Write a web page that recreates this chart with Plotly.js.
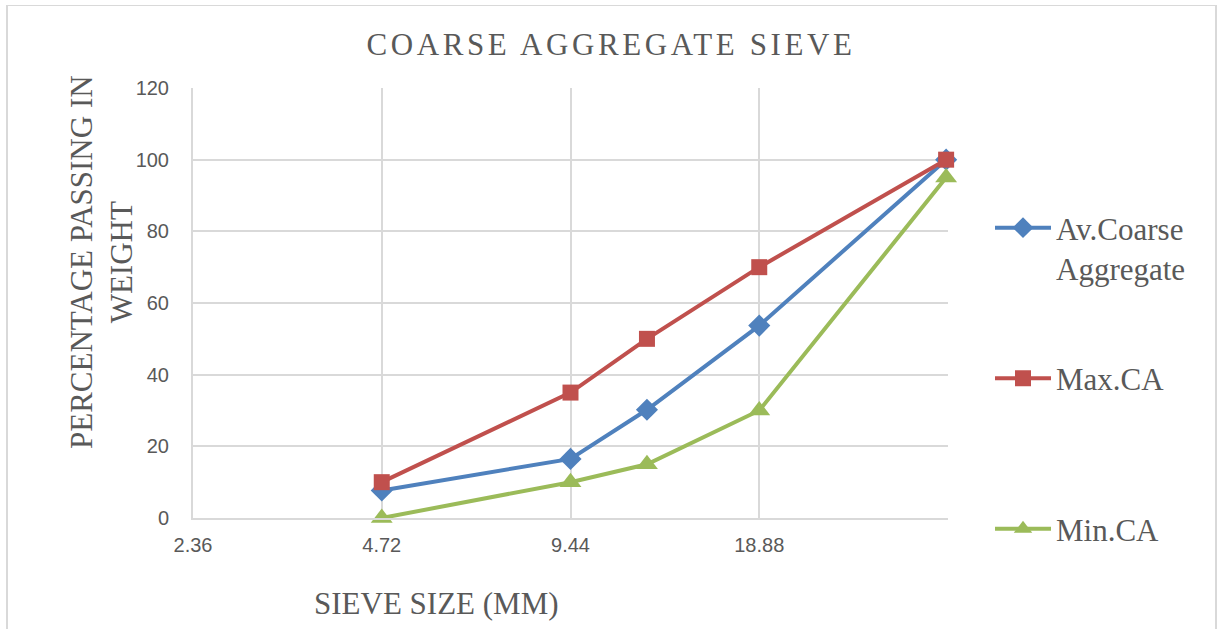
<!DOCTYPE html>
<html>
<head>
<meta charset="utf-8">
<script src="https://cdn.plot.ly/plotly-3.0.1.min.js"></script>
<style>
  html, body { margin: 0; padding: 0; background: #ffffff; }
  #frame { position: absolute; left: 6px; top: 5px; width: 1207px; height: 640px;
           border-top: 1px solid #d9d9d9; border-right: 2px solid #d9d9d9; border-left: 2px solid #d9d9d9; }
  #chart { position: absolute; left: 0; top: 0; width: 1217px; height: 629px; }
  .gtitle { letter-spacing: 3.6px; }
</style>
</head>
<body>
<div id="frame"></div>
<div id="chart"></div>
<script>
const sieveSizes = [4.72, 9.44, 12.5, 18.88, 37.5];
const avCoarse = [7.7, 16.5, 30.2, 53.7, 100];
const maxCA = [10, 35, 50, 70, 100];
const minCA = [0, 10, 15, 30, 95];
const seriesNames = ['Av.Coarse<br>Aggregate', 'Max.CA<br>\u00a0', 'Min.CA'];
const xTickVals = [2.36, 4.72, 9.44, 18.88];
const xTickText = ['2.36', '4.72', '9.44', '18.88'];
const yTickVals = [0, 20, 40, 60, 80, 100, 120];

const serif = 'Liberation Serif, Times New Roman, serif';
const sans = 'Liberation Sans, Arial, sans-serif';
const grey = '#595959';
const gridGrey = '#d9d9d9';

function trace(y, name, color, symbol, size, group) {
  return {
    x: sieveSizes, y: y, name: name, type: 'scatter', mode: 'lines+markers',
    legendgroup: group,
    line: { color: color, width: 4 },
    marker: { color: color, symbol: symbol, size: size, line: { width: 0 } },
    cliponaxis: false
  };
}

const data = [
  trace(avCoarse, seriesNames[0], '#4f81bd', 'diamond', 17, 'a'),
  trace(maxCA, seriesNames[1], '#c0504d', 'square', 16, 'b'),
  trace(minCA, seriesNames[2], '#9bbb59', 'triangle-up', 19, 'c')
];

const layout = {
  width: 1217, height: 629,
  paper_bgcolor: 'rgba(0,0,0,0)', plot_bgcolor: '#ffffff',
  margin: { l: 193, r: 269, t: 88, b: 111, pad: 0 },
  title: {
    text: 'COARSE AGGREGATE SIEVE',
    font: { family: serif, size: 31, color: grey },
    x: 0.502, xanchor: 'center', xref: 'container',
    y: 1 - 44 / 629, yanchor: 'middle', yref: 'container'
  },
  xaxis: {
    type: 'log',
    range: [Math.log10(2.36), Math.log10(37.76)],
    tickvals: xTickVals, ticktext: xTickText,
    tickfont: { family: sans, size: 20, color: grey },
    ticks: 'outside', ticklen: 8, tickcolor: 'rgba(0,0,0,0)',
    showgrid: true, gridcolor: gridGrey, gridwidth: 2,
    showline: true, linecolor: gridGrey, linewidth: 2,
    zeroline: false
  },
  yaxis: {
    range: [0, 120],
    tickvals: yTickVals,
    tickfont: { family: sans, size: 20, color: grey },
    ticks: 'outside', ticklen: 18, tickcolor: 'rgba(0,0,0,0)',
    showgrid: true, gridcolor: gridGrey, gridwidth: 2,
    showline: true, linecolor: gridGrey, linewidth: 2,
    zeroline: false
  },
  showlegend: true,
  legend: {
    x: (990 - 193) / 755, xanchor: 'left', xref: 'paper',
    y: (518 - 201) / 430, yanchor: 'top', yref: 'paper',
    valign: 'top',
    font: { family: serif, size: 31, color: grey },
    tracegroupgap: 67,
    itemwidth: 56,
    bgcolor: 'rgba(0,0,0,0)', borderwidth: 0
  },
  annotations: [
    {
      text: 'SIEVE SIZE (MM)', showarrow: false,
      xref: 'paper', yref: 'paper',
      x: (436 - 193) / 755, y: (518 - 603) / 430,
      xanchor: 'center', yanchor: 'middle',
      font: { family: serif, size: 31, color: grey }
    },
    {
      text: 'PERCENTAGE PASSING IN<br>WEIGHT', showarrow: false,
      textangle: -90, align: 'center',
      xref: 'paper', yref: 'paper',
      x: (101 - 193) / 755, y: (518 - 262) / 430,
      xanchor: 'center', yanchor: 'middle',
      font: { family: serif, size: 31, color: grey }
    }
  ]
};

Plotly.newPlot('chart', data, layout, { displayModeBar: false, staticPlot: true });
</script>
</body>
</html>
